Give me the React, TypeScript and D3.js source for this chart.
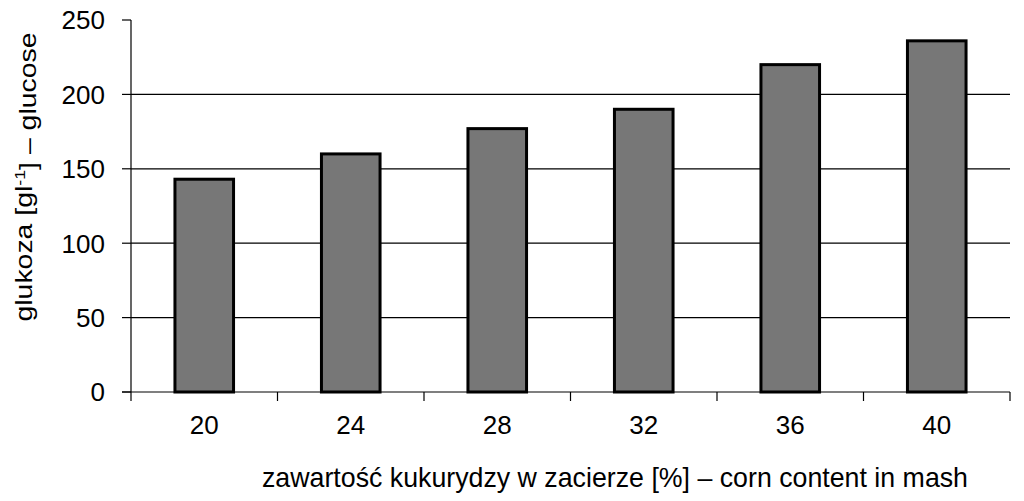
import React, { useEffect, useRef } from 'react';
import * as d3 from 'd3';

const categories = ['20', '24', '28', '32', '36', '40'];
const glucose = [143, 160, 177, 190, 220, 236];
const yTicks = [0, 50, 100, 150, 200, 250];

const W = 1024;
const H = 501;
const FONT = '"Liberation Sans", Arial, sans-serif';

const App: React.FC = () => {
  const svgRef = useRef<SVGSVGElement>(null);

  useEffect(() => {
    if (!svgRef.current) return;
    const svg = d3.select(svgRef.current);
    svg.selectAll('*').remove();

    const left = 131;
    const right = 1010;
    const top = 20;
    const bottom = 392;

    const x = d3.scaleBand<string>().domain(categories).range([left, right]).paddingInner(0.6).paddingOuter(0.3);
    const xEdges = d3.scaleBand<string>().domain(categories).range([left, right]);
    const y = d3.scaleLinear().domain([0, 250]).range([bottom, top]);

    // gridlines (not at 0 or at the top)
    svg.append('g')
      .selectAll('line')
      .data(yTicks.filter(t => t > 0 && t < 250))
      .enter().append('line')
      .attr('x1', left).attr('x2', right)
      .attr('y1', d => y(d)).attr('y2', d => y(d))
      .attr('stroke', '#000').attr('stroke-width', 1.2);

    // bars
    svg.append('g')
      .selectAll('rect')
      .data(glucose)
      .enter().append('rect')
      .attr('x', (_, i) => x(categories[i])!)
      .attr('width', x.bandwidth())
      .attr('y', d => y(d))
      .attr('height', d => y(0) - y(d))
      .attr('fill', '#777777')
      .attr('stroke', '#000')
      .attr('stroke-width', 3);

    // y axis
    const yAxis = svg.append('g');
    yAxis.append('line')
      .attr('x1', left).attr('x2', left)
      .attr('y1', top).attr('y2', bottom)
      .attr('stroke', '#000').attr('stroke-width', 1.2);
    yAxis.selectAll('.tick')
      .data(yTicks)
      .enter().append('line')
      .attr('x1', left - 9).attr('x2', left)
      .attr('y1', d => y(d)).attr('y2', d => y(d))
      .attr('stroke', '#000').attr('stroke-width', 1.2);
    yAxis.selectAll('text')
      .data(yTicks)
      .enter().append('text')
      .attr('x', 105)
      .attr('y', d => y(d))
      .attr('dy', '0.36em')
      .attr('text-anchor', 'end')
      .style('font-family', FONT)
      .style('font-size', '26px')
      .text(d => d);

    // x axis
    const xAxis = svg.append('g');
    xAxis.append('line')
      .attr('x1', left - 9).attr('x2', right)
      .attr('y1', bottom).attr('y2', bottom)
      .attr('stroke', '#000').attr('stroke-width', 1.2);
    const edges = categories.map(c => xEdges(c)!).concat([right]);
    xAxis.selectAll('.tick')
      .data(edges)
      .enter().append('line')
      .attr('x1', d => d).attr('x2', d => d)
      .attr('y1', bottom).attr('y2', bottom + 9)
      .attr('stroke', '#000').attr('stroke-width', 1.2);
    xAxis.selectAll('text')
      .data(categories)
      .enter().append('text')
      .attr('x', d => xEdges(d)! + xEdges.bandwidth() / 2)
      .attr('y', 425)
      .attr('dy', '0.36em')
      .attr('text-anchor', 'middle')
      .style('font-family', FONT)
      .style('font-size', '26px')
      .text(d => d);

    // x title (condensed in the original)
    svg.append('text')
      .attr('x', 262)
      .attr('y', 487)
      .attr('textLength', 706)
      .attr('lengthAdjust', 'spacingAndGlyphs')
      .style('font-family', FONT)
      .style('font-size', '28px')
      .text('zawartość kukurydzy w zacierze [%] – corn content in mash');

    // y title
    const yt = svg.append('text')
      .attr('transform', `translate(32,177) rotate(-90)`)
      .attr('text-anchor', 'middle')
      .attr('textLength', 289)
      .attr('lengthAdjust', 'spacingAndGlyphs')
      .style('font-family', FONT)
      .style('font-size', '24px');
    yt.append('tspan').text('glukoza [gl');
    yt.append('tspan').attr('dy', '-0.45em').style('font-size', '15px').text('-1');
    yt.append('tspan').attr('dy', '0.45em').text('] – glucose');
  }, []);

  return (
    <svg ref={svgRef} width={W} height={H} viewBox={`0 0 ${W} ${H}`}
      style={{ display: 'block', position: 'absolute', left: 0, top: 0, background: '#fff' }} />
  );
};

export default App;
